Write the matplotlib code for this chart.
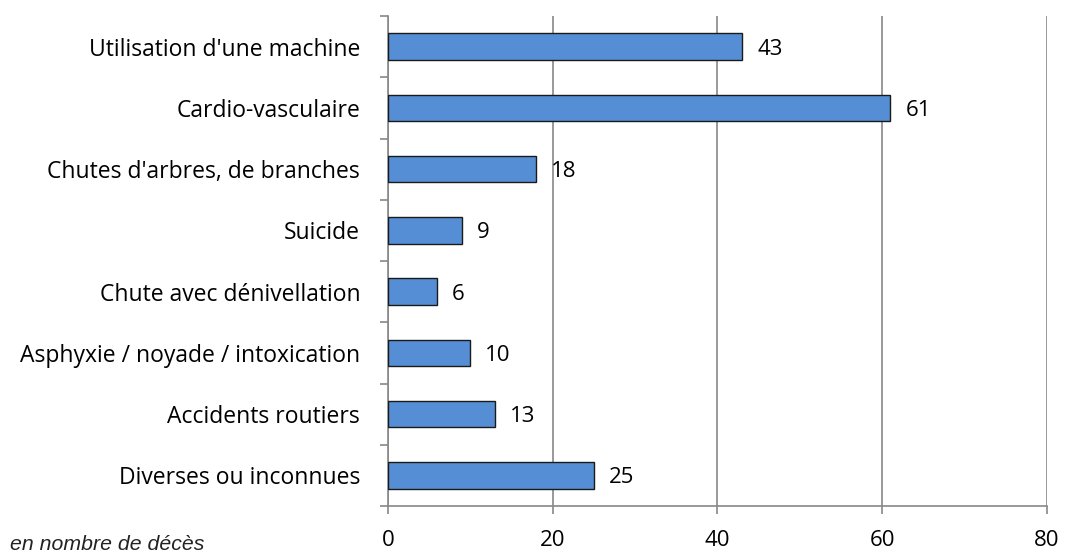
import matplotlib
matplotlib.use("Agg")
import matplotlib.pyplot as plt
import numpy as np

categories = ["Utilisation d'une machine", "Cardio-vasculaire", "Chutes d'arbres, de branches",
              "Suicide", "Chute avec dénivellation", "Asphyxie / noyade / intoxication",
              "Accidents routiers", "Diverses ou inconnues"]
values = [43, 61, 18, 9, 6, 10, 13, 25]
xticks = [0, 20, 40, 60, 80]

plt.rcParams['font.family'] = ['Open Sans', 'DejaVu Sans']

fig = plt.figure(figsize=(10.65, 5.54), dpi=100)
ax = fig.add_axes([0.3643, 0.0866, 0.6188, 0.8845])

y = np.arange(len(categories))
ax.barh(y, values, height=0.43, color='#558ed5', edgecolor='#1a1a1a', linewidth=1.0, zorder=3)
for yi, v in zip(y, values):
    ax.text(v + 1.8, yi + 0.04, str(v), va='center', ha='left', fontsize=16, color='black')

ax.set_ylim(len(categories) - 0.5, -0.5)
ax.set_xlim(0, 80)
ax.set_xticks(xticks)
ax.set_xticklabels([str(t) for t in xticks], fontsize=16)
ax.set_yticks(y)
ax.set_yticklabels(categories, fontsize=16.5)
ax.set_yticks(np.arange(-0.5, len(categories), 1), minor=True)
ax.tick_params(axis='y', which='major', length=0, pad=20)
ax.tick_params(axis='y', which='minor', length=6, color='#888888', width=1.2)
ax.tick_params(axis='x', length=6, color='#888888', width=1.2, pad=11)

ax.grid(axis='x', color='#888888', linewidth=1.2, zorder=0)
for s in ['top', 'right']:
    ax.spines[s].set_visible(False)
ax.spines['left'].set_color('#888888')
ax.spines['left'].set_linewidth(1.2)
ax.spines['bottom'].set_color('#888888')
ax.spines['bottom'].set_linewidth(1.2)

fig.text(0.009, 0.008, "en nombre de décès", fontsize=15.3, style='italic',
         family=['Liberation Sans', 'DejaVu Sans'], color='#222222')

fig.savefig("out.png", dpi=100)
